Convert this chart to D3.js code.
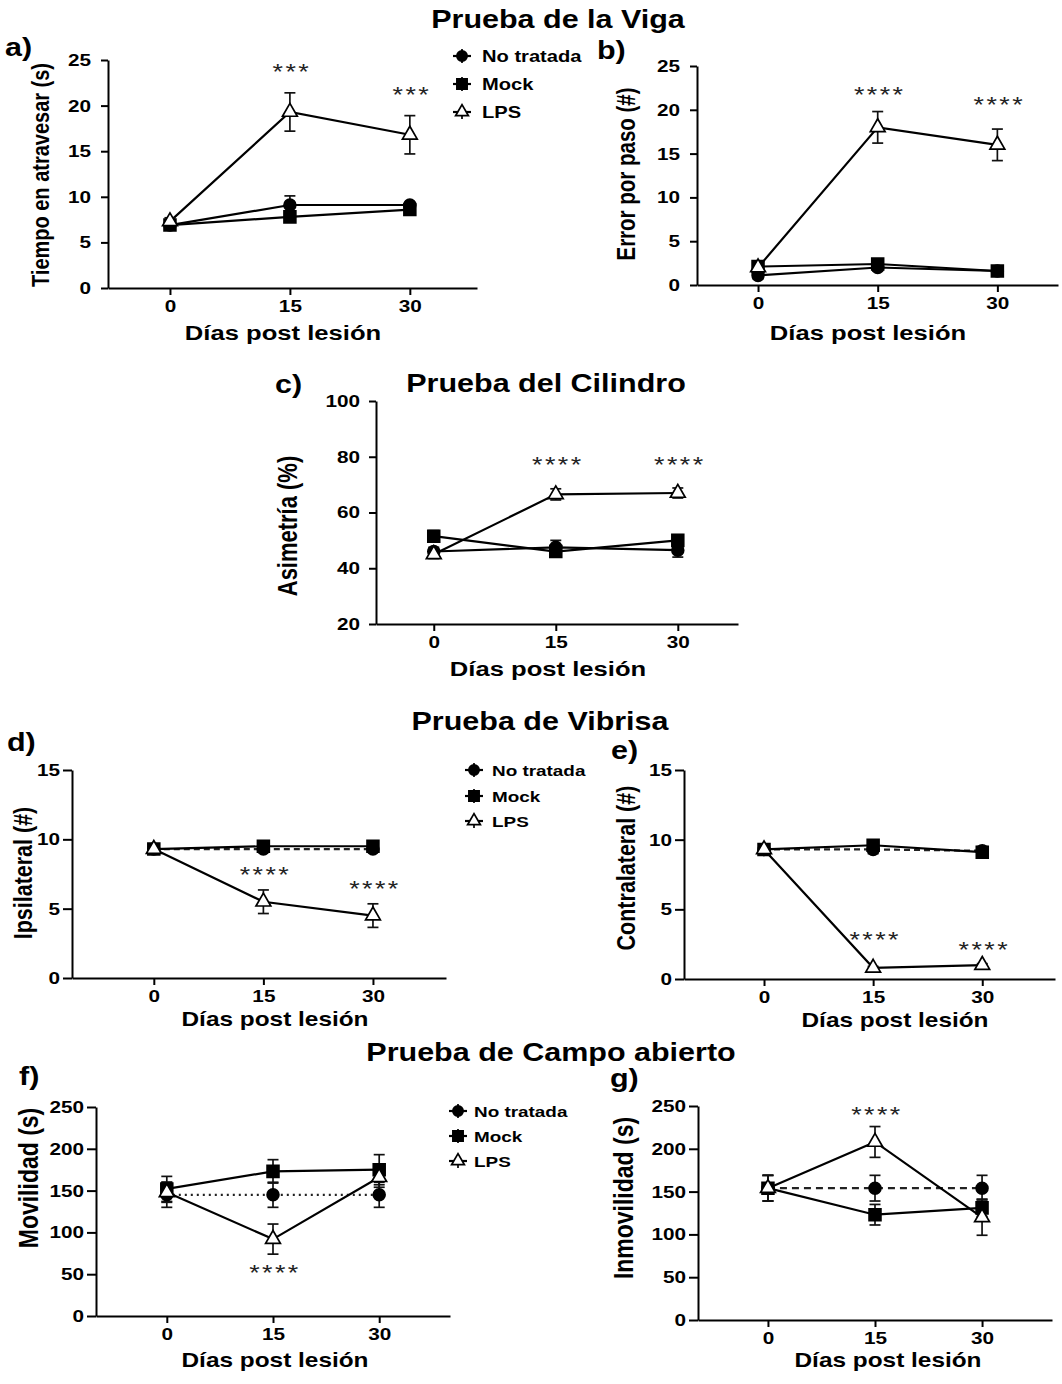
<!DOCTYPE html>
<html>
<head>
<meta charset="utf-8">
<script src="https://cdn.jsdelivr.net/npm/d3@7"></script>
<style>
  body { margin: 0; background: #fff; }
  svg text { font-family: "Liberation Sans", Arial, sans-serif; }
  .axis path, .axis line { stroke: #000; stroke-width: 2px; }
  .axis text { font-weight: bold; fill: #000; }
</style>
</head>
<body>
<div id="chart"></div>
<script>
// Days and groups
const days = [0, 15, 30];
const groups = ["No tratada", "Mock", "LPS"];

// a) Prueba de la Viga - tiempo en atravesar (s)  [No tratada, Mock, LPS]
const tiempoMean = [[6.9, 9.1, 9.1], [6.9, 7.8, 8.6], [7.3, 19.3, 16.8]];
const tiempoErr  = [[0.3, 1.0, 0.3], [0.3, 0.4, 0.4], [0.4, 2.1, 2.1]];

// b) Prueba de la Viga - error por paso (#)
const errorMean = [[1.1, 2.0, 1.6], [2.1, 2.4, 1.6], [2.0, 18.0, 16.0]];
const errorErr  = [[0.4, 0.4, 0.4], [0.4, 0.5, 0.4], [0.4, 1.8, 1.8]];

// c) Prueba del Cilindro - asimetría (%)
const asimMean = [[46, 47.5, 46.5], [51.5, 46, 50], [45, 66.5, 67]];
const asimErr  = [[1.5, 2.5, 2.5], [2, 1.5, 2], [1.5, 2, 1.8]];

// d) Prueba de Vibrisa - ipsilateral (#)
const ipsiMean = [[9.3, 9.3, 9.3], [9.3, 9.5, 9.5], [9.3, 5.5, 4.5]];
const ipsiErr  = [[0.2, 0.2, 0.2], [0.2, 0.2, 0.2], [0.2, 0.85, 0.85]];

// e) Prueba de Vibrisa - contralateral (#)
const contraMean = [[9.3, 9.3, 9.2], [9.3, 9.6, 9.1], [9.3, 0.8, 1.0]];
const contraErr  = [[0.2, 0.3, 0.3], [0.2, 0.2, 0.3], [0.2, 0.1, 0.1]];

// f) Campo abierto - movilidad (s)
const movMean = [[145, 145, 145], [152, 173, 175], [148, 92, 166]];
const movErr  = [[15, 15, 15], [15, 14, 18], [12, 18, 12]];

// g) Campo abierto - inmovilidad (s)
const inmovMean = [[154, 154, 154], [154, 123, 131], [154, 208, 120]];
const inmovErr  = [[15, 15, 15], [15, 12, 10], [15, 18, 21]];

// Tick values
const ticks25 = [0, 5, 10, 15, 20, 25];
const ticks100 = [20, 40, 60, 80, 100];
const ticks15 = [0, 5, 10, 15];
const ticks250 = [0, 50, 100, 150, 200, 250];

// The figure's lettering is wide: stretch all text horizontally
const SX = 1.22;

// Panel layout (pixel boxes, labels, star annotations at their centre value)
const panels = [
  { letter: "a)", lx: 5, ly: 56, mean: tiempoMean, err: tiempoErr, yTicks: ticks25, yDom: [0, 25],
    px: [108, 477], py: [288, 60], xDom: [-7.75, 38.4], tick: 7, pad: 10,
    ylab: "Tiempo en atravesar (s)", ylfs: 20, ylx: 40, yly: 175, xlx: 283, xly: 340, xlfs: 21,
    dash: [null, null, null],
    stars: [{ d: 15, v: 24.2, t: "***" }, { d: 30, v: 21.7, t: "***" }],
    legend: { mx: 462, tx: 482, y: [56, 84, 112], fs: 16.5 } },
  { letter: "b)", lx: 597, ly: 59, mean: errorMean, err: errorErr, yTicks: ticks25, yDom: [0, 25],
    px: [697, 1058], py: [285, 66], xDom: [-7.65, 37.6], tick: 7, pad: 10,
    ylab: "Error por paso (#)", ylfs: 20.5, ylx: 626, yly: 174, xlx: 868, xly: 340, xlfs: 21,
    dash: [null, null, null],
    stars: [{ d: 15, v: 22.3, t: "****" }, { d: 30, v: 21.1, t: "****" }] },
  { letter: "c)", lx: 275, ly: 393, mean: asimMean, err: asimErr, yTicks: ticks100, yDom: [20, 100],
    px: [376, 738], py: [624, 401], xDom: [-7.1, 37.4], tick: 7, pad: 9,
    ylab: "Asimetría (%)", ylfs: 22, ylx: 288, yly: 526, xlx: 548, xly: 676, xlfs: 21,
    dash: [null, null, null],
    stars: [{ d: 15, v: 78.8, t: "****" }, { d: 30, v: 78.8, t: "****" }] },
  { letter: "d)", lx: 7, ly: 751, mean: ipsiMean, err: ipsiErr, yTicks: ticks15, yDom: [0, 15],
    px: [72, 446], py: [978, 770], xDom: [-11.2, 40], tick: 9, pad: 3,
    ylab: "Ipsilateral (#)", ylfs: 21.5, ylx: 23, yly: 873, xlx: 275, xly: 1026, xlfs: 20,
    dash: ["6,4", null, null],
    stars: [{ d: 15, v: 7.8, t: "****" }, { d: 30, v: 6.8, t: "****" }],
    legend: { mx: 474, tx: 492, y: [770, 796, 821], fs: 15.5 } },
  { letter: "e)", lx: 611, ly: 759, mean: contraMean, err: contraErr, yTicks: ticks15, yDom: [0, 15],
    px: [684, 1055], py: [979, 770], xDom: [-11, 40], tick: 9, pad: 3,
    ylab: "Contralateral (#)", ylfs: 21.5, ylx: 626, yly: 868, xlx: 895, xly: 1027, xlfs: 20,
    dash: ["6,4", null, null],
    stars: [{ d: 15, v: 3.16, t: "****" }, { d: 30, v: 2.44, t: "****" }] },
  { letter: "f)", lx: 19, ly: 1085, mean: movMean, err: movErr, yTicks: ticks250, yDom: [0, 250],
    px: [96, 450], py: [1316, 1107], xDom: [-10, 40], tick: 9, pad: 3,
    ylab: "Movilidad (s)", ylfs: 23, ylx: 28, yly: 1178, xlx: 275, xly: 1367, xlfs: 20,
    dash: ["2,4", null, null],
    stars: [{ d: 15, v: 57.4, t: "****" }],
    legend: { mx: 458, tx: 474, y: [1111, 1136, 1161], fs: 15.5 } },
  { letter: "g)", lx: 610, ly: 1087, mean: inmovMean, err: inmovErr, yTicks: ticks250, yDom: [0, 250],
    px: [698, 1052], py: [1320, 1106], xDom: [-9.8, 39.8], tick: 9, pad: 3,
    ylab: "Inmovilidad (s)", ylfs: 23, ylx: 623, yly: 1198, xlx: 888, xly: 1367, xlfs: 20,
    dash: ["7,5", null, null],
    stars: [{ d: 15, v: 245, t: "****" }] }
];

const titles = [
  { t: "Prueba de la Viga", x: 558, y: 28 },
  { t: "Prueba del Cilindro", x: 546, y: 392 },
  { t: "Prueba de Vibrisa", x: 540, y: 730 },
  { t: "Prueba de Campo abierto", x: 551, y: 1061 }
];

const symbols = [d3.symbolCircle, d3.symbolSquare, d3.symbolTriangle];
const symSize = [110, 140, 95];
const symFill = ["#000", "#000", "#fff"];

let svg = d3.select("#chart").append("svg")
    .attr("width", 1062)
    .attr("height", 1384);

// Stretched text helper
function addText(parent, x, y, str, size, opts) {
    opts = opts || {};
    let t = parent.append("text")
        .attr("transform", "translate(" + x + "," + y + ") scale(" + SX + ",1)" + (opts.rotate ? " rotate(" + opts.rotate + ")" : ""))
        .attr("text-anchor", opts.anchor || "start")
        .style("font-size", size + "px")
        .style("font-weight", opts.weight || "bold")
        .text(str);
    if (opts.dy) t.attr("dy", opts.dy);
    return t;
}

// Section titles
titles.forEach(d => addText(svg, d.x, d.y, d.t, 25, { anchor: "middle" }));

panels.forEach(p => {
    let x = d3.scaleLinear().domain(p.xDom).range(p.px);
    let y = d3.scaleLinear().domain(p.yDom).range(p.py);
    let g = svg.append("g");

    // Panel letter
    addText(g, p.lx, p.ly, p.letter, 25);

    // y axis
    g.append("g")
        .attr("class", "axis")
        .attr("transform", "translate(" + p.px[0] + ",0)")
        .call(d3.axisLeft(y).tickValues(p.yTicks).tickSize(p.tick).tickSizeOuter(0).tickPadding(p.pad))
        .selectAll("text")
        .style("font-size", "17px")
        .attr("x", -(p.tick + p.pad) / SX)
        .attr("transform", "scale(" + SX + ",1)");

    // x axis
    g.append("g")
        .attr("class", "axis")
        .attr("transform", "translate(0," + p.py[0] + ")")
        .call(d3.axisBottom(x).tickValues(days).tickSize(7).tickSizeOuter(0).tickPadding(5))
        .selectAll("text")
        .style("font-size", "17px")
        .attr("transform", "scale(" + SX + ",1)");

    // Axis titles
    addText(g, p.ylx, p.yly, p.ylab, p.ylfs, { anchor: "middle", rotate: -90, dy: "0.35em" });
    addText(g, p.xlx, p.xly, "Días post lesión", p.xlfs, { anchor: "middle" });

    // Lines
    let line = d3.line().x((d, i) => x(days[i])).y(d => y(d));
    p.mean.forEach((m, gi) => {
        g.append("path")
            .datum(m)
            .attr("d", line)
            .attr("fill", "none")
            .attr("stroke", p.dash[gi] ? "#222" : "#000")
            .attr("stroke-width", 2.2)
            .attr("stroke-dasharray", p.dash[gi]);
    });

    // Error bars
    p.mean.forEach((m, gi) => {
        m.forEach((v, i) => {
            let e = p.err[gi][i];
            let cx = x(days[i]);
            let eb = g.append("g").attr("stroke", "#111").attr("stroke-width", 1.7);
            eb.append("line").attr("x1", cx).attr("x2", cx).attr("y1", y(v - e)).attr("y2", y(v + e));
            eb.append("line").attr("x1", cx - 5.5).attr("x2", cx + 5.5).attr("y1", y(v - e)).attr("y2", y(v - e));
            eb.append("line").attr("x1", cx - 5.5).attr("x2", cx + 5.5).attr("y1", y(v + e)).attr("y2", y(v + e));
        });
    });

    // Markers
    p.mean.forEach((m, gi) => {
        g.selectAll(null)
            .data(m)
            .join("path")
            .attr("transform", (d, i) => "translate(" + x(days[i]) + "," + y(d) + ")")
            .attr("d", d3.symbol().type(symbols[gi]).size(symSize[gi]))
            .attr("fill", symFill[gi])
            .attr("stroke", "#000")
            .attr("stroke-width", 1.7);
    });

    // Significance stars (v is the centre of the asterisks)
    p.stars.forEach(s => {
        addText(g, x(s.d) + 2, y(s.v) + 12, s.t, 22, { anchor: "middle", weight: "normal" })
            .style("letter-spacing", "2px")
            .style("fill", "#222");
    });

    // Legend
    if (p.legend) {
        let leg = g.append("g");
        groups.forEach((name, gi) => {
            let ly = p.legend.y[gi];
            let mx = p.legend.mx;
            leg.append("line")
                .attr("x1", mx - 9).attr("x2", mx + 9)
                .attr("y1", ly).attr("y2", ly)
                .attr("stroke", "#000").attr("stroke-width", 2.2);
            leg.append("line")
                .attr("x1", mx).attr("x2", mx)
                .attr("y1", ly - 7).attr("y2", ly + 7)
                .attr("stroke", "#000").attr("stroke-width", 1.7);
            leg.append("path")
                .attr("transform", "translate(" + mx + "," + ly + ")")
                .attr("d", d3.symbol().type(symbols[gi]).size(symSize[gi] * 0.75))
                .attr("fill", symFill[gi])
                .attr("stroke", "#000")
                .attr("stroke-width", 1.7);
            addText(leg, p.legend.tx, ly, name, p.legend.fs, { dy: "0.36em" });
        });
    }
});
</script>
</body>
</html>
